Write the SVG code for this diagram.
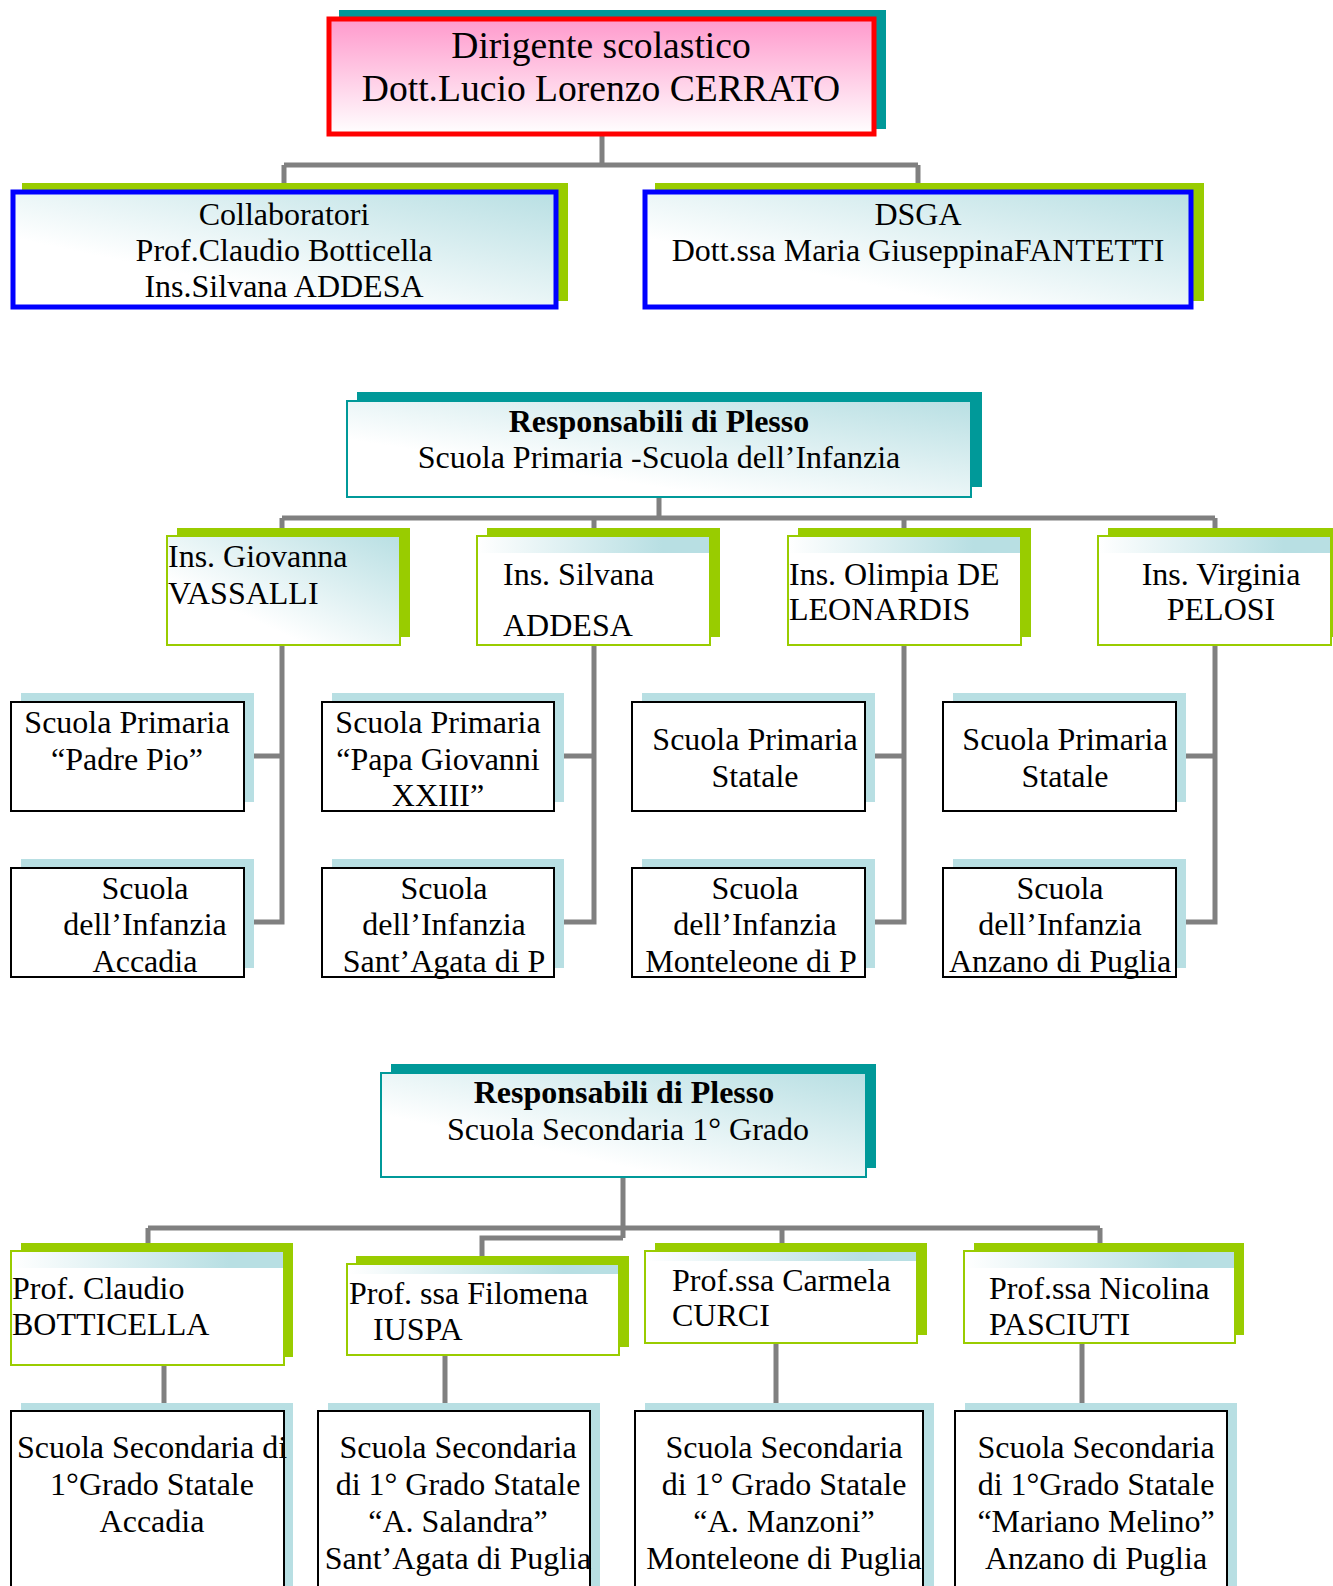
<svg xmlns="http://www.w3.org/2000/svg" width="1333" height="1586" viewBox="0 0 1333 1586">
<style>
.t{font-family:"Liberation Serif","Times New Roman",serif;font-size:32px;fill:#000}
.c{text-anchor:middle}
.b{font-weight:bold}
.big{font-size:37.6px}
.conn{stroke:#808080;stroke-width:5;fill:none}
.l3{fill:#fff;stroke:#000;stroke-width:2}
.sh3{fill:#b8dfe3}
.shg{fill:#99cc00}
.sht{fill:#009999}
.l2{stroke:#99cc00;stroke-width:2}
</style>
<defs>
<linearGradient id="pink" x1="0" y1="0" x2="0" y2="1">
<stop offset="0" stop-color="#ff99cc"/>
<stop offset="1" stop-color="#ffffff"/>
</linearGradient>
<linearGradient id="teal" x1="0" y1="1" x2="1" y2="0">
<stop offset="0.3" stop-color="#ffffff"/>
<stop offset="1" stop-color="#b8dfe3"/>
</linearGradient>
<linearGradient id="band" x1="0" y1="0" x2="1" y2="0">
<stop offset="0" stop-color="#ffffff"/>
<stop offset="0.8" stop-color="#b8dfe3"/>
<stop offset="1" stop-color="#b8dfe3"/>
</linearGradient>
</defs>

<g id="connectors">
<path class="conn" d="M602,135 V165 M284,165 H918 M284,165 V184 M918,165 V184"/>
<path class="conn" d="M659,497 V518 M282,518 H1215 M282,518 V529 M594,518 V529 M904,518 V529 M1215,518 V529"/>
<path class="conn" d="M282,645 V922 H254 M282,756 H254"/>
<path class="conn" d="M594,645 V922 H564 M594,756 H564"/>
<path class="conn" d="M904,645 V922 H875 M904,756 H875"/>
<path class="conn" d="M1215,645 V922 H1186 M1215,756 H1186"/>
<path class="conn" d="M623,1177 V1238 M148,1228 H1100 M148,1228 V1244 M782,1228 V1244 M1100,1228 V1244 M623,1238 H482 V1257"/>
<path class="conn" d="M164,1365 V1404 M445,1355 V1404 M776,1343 V1404 M1082,1343 V1404"/>
</g>

<g id="dirigente">
<rect class="sht" x="339" y="10" width="547" height="119"/>
<rect x="329" y="19" width="545" height="115" fill="url(#pink)" stroke="#ff0000" stroke-width="5"/>
<text class="t big c" x="601" y="58">Dirigente scolastico</text>
<text class="t big c" x="601" y="101">Dott.Lucio Lorenzo CERRATO</text>
</g>

<g id="collaboratori">
<rect class="shg" x="22" y="183" width="546" height="118"/>
<rect x="13" y="192" width="543" height="115" fill="url(#teal)" stroke="#0000ff" stroke-width="5"/>
<text class="t c" x="284" y="225">Collaboratori</text>
<text class="t c" x="284" y="261">Prof.Claudio Botticella</text>
<text class="t c" x="284" y="297">Ins.Silvana ADDESA</text>
</g>

<g id="dsga">
<rect class="shg" x="655" y="183" width="549" height="118"/>
<rect x="645" y="192" width="546" height="115" fill="url(#teal)" stroke="#0000ff" stroke-width="5"/>
<text class="t c" x="918" y="225">DSGA</text>
<text class="t c" x="918" y="261">Dott.ssa Maria GiuseppinaFANTETTI</text>
</g>

<g id="resp-primaria">
<rect class="sht" x="357" y="392" width="625" height="95"/>
<rect x="347" y="401" width="624" height="96" fill="url(#teal)" stroke="#009999" stroke-width="2"/>
<text class="t b c" x="659" y="432">Responsabili di Plesso</text>
<text class="t c" x="659" y="468">Scuola Primaria -Scuola dell’Infanzia</text>
</g>

<g id="vassalli">
<rect class="shg" x="177" y="528" width="233" height="109"/>
<rect class="l2" x="167" y="536" width="233" height="109" fill="url(#teal)"/>
<text class="t" x="168" y="567">Ins. Giovanna</text>
<text class="t" x="168" y="604">VASSALLI</text>
</g>

<g id="addesa">
<rect class="shg" x="487" y="528" width="233" height="109"/>
<rect class="l2" x="477" y="536" width="233" height="109" fill="#fff"/>
<rect x="478" y="537" width="231" height="16" fill="url(#band)"/>
<text class="t" x="503" y="585">Ins. Silvana</text>
<text class="t" x="503" y="636">ADDESA</text>
</g>

<g id="deleonardis">
<rect class="shg" x="798" y="528" width="233" height="109"/>
<rect class="l2" x="788" y="536" width="233" height="109" fill="#fff"/>
<rect x="789" y="537" width="231" height="16" fill="url(#band)"/>
<text class="t" x="789" y="585">Ins. Olimpia DE</text>
<text class="t" x="789" y="620">LEONARDIS</text>
</g>

<g id="pelosi">
<rect class="shg" x="1108" y="528" width="233" height="109"/>
<rect class="l2" x="1098" y="536" width="233" height="109" fill="#fff"/>
<rect x="1099" y="537" width="231" height="16" fill="url(#band)"/>
<text class="t c" x="1221" y="585">Ins. Virginia</text>
<text class="t c" x="1221" y="620">PELOSI</text>
</g>

<g id="padrepio">
<rect class="sh3" x="21" y="693" width="233" height="109"/>
<rect class="l3" x="11" y="702" width="233" height="109"/>
<text class="t c" x="127" y="733">Scuola Primaria</text>
<text class="t c" x="127" y="770">“Padre Pio”</text>
</g>

<g id="infanzia-accadia">
<rect class="sh3" x="21" y="859" width="233" height="109"/>
<rect class="l3" x="11" y="868" width="233" height="109"/>
<text class="t c" x="145" y="899">Scuola</text>
<text class="t c" x="145" y="935">dell’Infanzia</text>
<text class="t c" x="145" y="972">Accadia</text>
</g>

<g id="papagiovanni">
<rect class="sh3" x="332" y="693" width="232" height="109"/>
<rect class="l3" x="322" y="702" width="232" height="109"/>
<text class="t c" x="438" y="733">Scuola Primaria</text>
<text class="t c" x="438" y="770">“Papa Giovanni</text>
<text class="t c" x="438" y="806">XXIII”</text>
</g>

<g id="infanzia-santagata">
<rect class="sh3" x="332" y="859" width="232" height="109"/>
<rect class="l3" x="322" y="868" width="232" height="109"/>
<text class="t c" x="444" y="899">Scuola</text>
<text class="t c" x="444" y="935">dell’Infanzia</text>
<text class="t c" x="444" y="972">Sant’Agata di P</text>
</g>

<g id="primaria-monteleone">
<rect class="sh3" x="642" y="693" width="233" height="109"/>
<rect class="l3" x="632" y="702" width="233" height="109"/>
<text class="t c" x="755" y="750">Scuola Primaria</text>
<text class="t c" x="755" y="787">Statale</text>
</g>

<g id="infanzia-monteleone">
<rect class="sh3" x="642" y="859" width="233" height="109"/>
<rect class="l3" x="632" y="868" width="233" height="109"/>
<text class="t c" x="755" y="899">Scuola</text>
<text class="t c" x="755" y="935">dell’Infanzia</text>
<text class="t c" x="751" y="972">Monteleone di P</text>
</g>

<g id="primaria-anzano">
<rect class="sh3" x="953" y="693" width="233" height="109"/>
<rect class="l3" x="943" y="702" width="233" height="109"/>
<text class="t c" x="1065" y="750">Scuola Primaria</text>
<text class="t c" x="1065" y="787">Statale</text>
</g>

<g id="infanzia-anzano">
<rect class="sh3" x="953" y="859" width="233" height="109"/>
<rect class="l3" x="943" y="868" width="233" height="109"/>
<text class="t c" x="1060" y="899">Scuola</text>
<text class="t c" x="1060" y="935">dell’Infanzia</text>
<text class="t c" x="1060" y="972">Anzano di Puglia</text>
</g>

<g id="resp-secondaria">
<rect class="sht" x="391" y="1064" width="485" height="104"/>
<rect x="381" y="1073" width="485" height="104" fill="url(#teal)" stroke="#009999" stroke-width="2"/>
<text class="t b c" x="624" y="1103">Responsabili di Plesso</text>
<text class="t c" x="628" y="1140">Scuola Secondaria 1° Grado</text>
</g>

<g id="botticella">
<rect class="shg" x="21" y="1243" width="272" height="114"/>
<rect class="l2" x="11" y="1251" width="273" height="114" fill="#fff"/>
<rect x="12" y="1252" width="271" height="16" fill="url(#band)"/>
<text class="t" x="12" y="1299">Prof. Claudio</text>
<text class="t" x="12" y="1335">BOTTICELLA</text>
</g>

<g id="iuspa">
<rect class="shg" x="356" y="1256" width="273" height="91"/>
<rect class="l2" x="347" y="1264" width="272" height="91" fill="#fff"/>
<rect x="348" y="1265" width="270" height="9" fill="url(#band)"/>
<text class="t" x="349" y="1304">Prof. ssa Filomena</text>
<text class="t" x="373" y="1340">IUSPA</text>
</g>

<g id="curci">
<rect class="shg" x="655" y="1243" width="272" height="92"/>
<rect class="l2" x="645" y="1251" width="272" height="92" fill="#fff"/>
<rect x="646" y="1252" width="270" height="9" fill="url(#band)"/>
<text class="t" x="672" y="1291">Prof.ssa Carmela</text>
<text class="t" x="672" y="1326">CURCI</text>
</g>

<g id="pasciuti">
<rect class="shg" x="974" y="1243" width="270" height="92"/>
<rect class="l2" x="964" y="1251" width="271" height="92" fill="#fff"/>
<rect x="965" y="1252" width="269" height="16" fill="url(#band)"/>
<text class="t" x="989" y="1299">Prof.ssa Nicolina</text>
<text class="t" x="989" y="1335">PASCIUTI</text>
</g>

<g id="sec-accadia">
<rect class="sh3" x="21" y="1403" width="272" height="200"/>
<rect class="l3" x="11" y="1411" width="273" height="200"/>
<text class="t c" x="152" y="1458">Scuola Secondaria di</text>
<text class="t c" x="152" y="1495">1°Grado Statale</text>
<text class="t c" x="152" y="1532">Accadia</text>
</g>

<g id="sec-santagata">
<rect class="sh3" x="328" y="1403" width="272" height="200"/>
<rect class="l3" x="318" y="1411" width="272" height="200"/>
<text class="t c" x="458" y="1458">Scuola Secondaria</text>
<text class="t c" x="458" y="1495">di 1° Grado Statale</text>
<text class="t c" x="458" y="1532">“A. Salandra”</text>
<text class="t c" x="458" y="1569">Sant’Agata di Puglia</text>
</g>

<g id="sec-monteleone">
<rect class="sh3" x="645" y="1403" width="289" height="200"/>
<rect class="l3" x="635" y="1411" width="288" height="200"/>
<text class="t c" x="784" y="1458">Scuola Secondaria</text>
<text class="t c" x="784" y="1495">di 1° Grado Statale</text>
<text class="t c" x="784" y="1532">“A. Manzoni”</text>
<text class="t c" x="784" y="1569">Monteleone di Puglia</text>
</g>

<g id="sec-anzano">
<rect class="sh3" x="965" y="1403" width="272" height="200"/>
<rect class="l3" x="955" y="1411" width="272" height="200"/>
<text class="t c" x="1096" y="1458">Scuola Secondaria</text>
<text class="t c" x="1096" y="1495">di 1°Grado Statale</text>
<text class="t c" x="1096" y="1532">“Mariano Melino”</text>
<text class="t c" x="1096" y="1569">Anzano di Puglia</text>
</g>
</svg>
